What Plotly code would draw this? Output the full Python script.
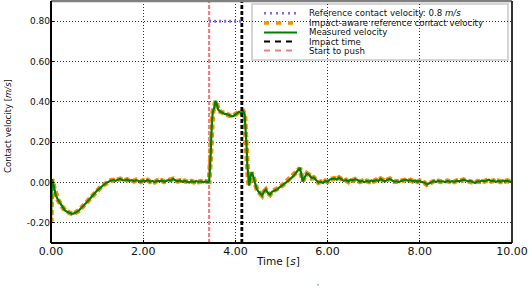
import plotly.graph_objects as go

# ---------------- data ----------------
time_s = [
    0.00, 0.02, 0.04, 0.07, 0.10, 0.15, 0.20, 0.25, 0.30, 0.35, 0.40, 0.45, 0.50, 0.55, 0.60,
    0.65, 0.70, 0.75, 0.80, 0.85, 0.90, 0.95, 1.00, 1.05, 1.10, 1.15, 1.20, 1.25, 1.30, 1.35,
    1.40, 1.45, 1.50, 1.55, 1.60, 1.65, 1.70, 1.75, 1.80, 1.85, 1.90, 1.95, 2.00, 2.05, 2.10,
    2.15, 2.20, 2.25, 2.30, 2.35, 2.40, 2.45, 2.50, 2.55, 2.60, 2.65, 2.70, 2.75, 2.80, 2.85,
    2.90, 2.95, 3.00, 3.05, 3.10, 3.15, 3.20, 3.25, 3.30, 3.35, 3.40, 3.43, 3.46, 3.49, 3.51,
    3.54, 3.57, 3.60, 3.63, 3.67, 3.72, 3.77, 3.82, 3.87, 3.92, 3.96, 4.00, 4.04, 4.08, 4.12,
    4.17, 4.20, 4.22, 4.24, 4.26, 4.28, 4.30, 4.32, 4.35, 4.38, 4.42, 4.46, 4.50, 4.54, 4.58,
    4.62, 4.66, 4.70, 4.75, 4.80, 4.85, 4.90, 4.95, 5.00, 5.05, 5.10, 5.15, 5.20, 5.25, 5.30,
    5.35, 5.40, 5.43, 5.46, 5.50, 5.55, 5.60, 5.65, 5.70, 5.75, 5.80, 5.85, 5.90, 5.95, 6.00,
    6.05, 6.10, 6.15, 6.20, 6.25, 6.30, 6.35, 6.40, 6.45, 6.50, 6.55, 6.60, 6.65, 6.70, 6.75,
    6.80, 6.85, 6.90, 6.95, 7.00, 7.05, 7.10, 7.15, 7.20, 7.25, 7.30, 7.35, 7.40, 7.45, 7.50,
    7.55, 7.60, 7.65, 7.70, 7.75, 7.80, 7.85, 7.90, 7.95, 8.00, 8.05, 8.10, 8.15, 8.20, 8.25,
    8.30, 8.35, 8.40, 8.45, 8.50, 8.55, 8.60, 8.65, 8.70, 8.75, 8.80, 8.85, 8.90, 8.95, 9.00,
    9.05, 9.10, 9.15, 9.20, 9.25, 9.30, 9.35, 9.40, 9.45, 9.50, 9.55, 9.60, 9.65, 9.70, 9.75,
    9.80, 9.85, 9.90, 9.95, 10.00,
]

measured_velocity = [
    -0.200, 0.015, 0.005, -0.030, -0.060, -0.085, -0.105, -0.125, -0.138, -0.145, -0.152, -0.155, -0.153, -0.148, -0.140,
    -0.128, -0.118, -0.104, -0.092, -0.078, -0.064, -0.052, -0.040, -0.030, -0.018, -0.010, -0.002, 0.005, 0.010, 0.012,
    0.008, 0.014, 0.018, 0.012, 0.010, 0.015, 0.008, 0.012, 0.006, 0.012, 0.008, 0.004, 0.010, 0.006, 0.012,
    0.004, 0.008, 0.002, 0.009, 0.006, 0.010, 0.004, 0.008, 0.012, 0.010, 0.018, 0.010, 0.006, 0.010, 0.004,
    0.008, 0.002, 0.000, 0.006, 0.002, 0.008, 0.003, 0.006, 0.001, 0.005, 0.002, 0.004, 0.120, 0.300, 0.350,
    0.370, 0.405, 0.385, 0.360, 0.352, 0.345, 0.340, 0.338, 0.332, 0.328, 0.330, 0.338, 0.345, 0.350, 0.345,
    0.352, 0.340, 0.280, 0.190, 0.080, 0.010, -0.015, 0.020, 0.050, 0.035, -0.005, -0.030, -0.045, -0.055, -0.065,
    -0.045, -0.035, -0.050, -0.060, -0.045, -0.040, -0.035, -0.025, -0.018, -0.008, 0.000, 0.010, 0.020, 0.030, 0.045,
    0.058, 0.072, 0.040, 0.006, 0.025, 0.045, 0.038, 0.022, 0.025, 0.010, 0.000, 0.004, -0.002, 0.008, 0.004,
    0.015, 0.018, 0.020, 0.014, 0.024, 0.016, 0.008, 0.012, 0.004, 0.015, 0.010, 0.016, 0.012, 0.004, 0.008,
    0.002, 0.008, 0.004, 0.010, 0.006, 0.012, 0.008, 0.018, 0.010, 0.006, 0.014, 0.018, 0.010, 0.004, 0.006,
    0.002, 0.008, 0.012, 0.014, 0.008, 0.012, 0.006, 0.010, 0.004, 0.008, 0.002, 0.000, -0.010, -0.004, 0.002,
    0.006, 0.003, 0.008, 0.004, 0.006, 0.002, 0.008, 0.004, 0.007, 0.003, 0.009, 0.006, 0.010, 0.014, 0.010,
    0.006, 0.008, 0.002, -0.002, 0.006, 0.004, 0.010, 0.006, 0.010, 0.014, 0.006, 0.009, 0.003, 0.008, 0.004,
    0.010, 0.006, 0.009, 0.004, 0.006,
]

# impact-aware reference follows the measured signal in the picture
impact_aware_reference = list(measured_velocity)

reference_time = [3.43, 4.14]
reference_velocity = [0.8, 0.8]

impact_time = 4.14
start_push_time = 3.43

x_range = [0, 10]
y_range = [-0.3, 0.9]
x_ticks = [0, 2, 4, 6, 8, 10]
x_tick_labels = ["0.00", "2.00", "4.00", "6.00", "8.00", "10.00"]
y_ticks = [-0.2, 0.0, 0.2, 0.4, 0.6, 0.8]
y_tick_labels = ["-0.20", "0.00", "0.20", "0.40", "0.60", "0.80"]

legend_labels = [
    "Reference contact velocity: 0.8 <i>m/s</i>",
    "Impact-aware reference contact velocity",
    "Measured velocity",
    "Impact time",
    "Start to push",
]

# ---------------- styles ----------------
C_BLUE = "#7b68ee"
C_ORANGE = "#ff8c00"
C_GREEN = "#008000"
C_BLACK = "#000000"
C_PINK = "#f08080"
FONT = "DejaVu Sans"

W, H = 532, 292
L, R, T, B = 51, 20, 1, 49
PW, PH = W - L - R, H - T - B


def px(xp):
    return (xp - L) / PW


def py(yp):
    return (H - B - yp) / PH


fig = go.Figure()

fig.add_trace(go.Scatter(
    x=[start_push_time, start_push_time], y=y_range, mode="lines",
    line=dict(color=C_PINK, width=2.2, dash="4px,2px"), showlegend=False, hoverinfo="skip"))
fig.add_trace(go.Scatter(
    x=time_s, y=impact_aware_reference, mode="lines",
    line=dict(color=C_ORANGE, width=5, dash="5px,3px"), showlegend=False))
fig.add_trace(go.Scatter(
    x=time_s, y=measured_velocity, mode="lines",
    line=dict(color=C_GREEN, width=2.2), showlegend=False))
fig.add_trace(go.Scatter(
    x=[impact_time, impact_time], y=y_range, mode="lines",
    line=dict(color=C_BLACK, width=2.8, dash="4px,2px"), showlegend=False, hoverinfo="skip"))
fig.add_trace(go.Scatter(
    x=reference_time, y=reference_velocity, mode="lines",
    line=dict(color=C_BLUE, width=3, dash="2px,3px"), showlegend=False))

shapes = []
# frame
shapes.append(dict(type="line", xref="paper", yref="paper", x0=0, x1=1, y0=1, y1=1,
                   line=dict(color="#808080", width=2.5)))
shapes.append(dict(type="line", xref="paper", yref="paper", x0=1, x1=1, y0=0, y1=1,
                   line=dict(color="#333333", width=2)))
shapes.append(dict(type="line", xref="paper", yref="paper", x0=0, x1=1, y0=0, y1=0,
                   line=dict(color="#000000", width=2)))
shapes.append(dict(type="line", xref="paper", yref="paper", x0=0, x1=0, y0=0, y1=1,
                   line=dict(color="#000000", width=2)))

# manual legend
shapes.append(dict(type="rect", xref="paper", yref="paper", layer="below",
                   x0=px(252), x1=px(508), y0=py(60), y1=py(4),
                   fillcolor="rgba(255,255,255,0.6)", line=dict(color="#c8c8c8", width=1.5)))
rows = [13.3, 23.0, 32.4, 41.5, 50.6]
samples = [
    dict(color=C_BLUE, width=2.5, dash="2px,4px"),
    dict(color=C_ORANGE, width=3.5, dash="5px,7px"),
    dict(color=C_GREEN, width=2, dash="solid"),
    dict(color=C_BLACK, width=2, dash="6px,5px"),
    dict(color=C_PINK, width=2, dash="6px,5px"),
]
annotations = []
for r, s, lab in zip(rows, samples, legend_labels):
    shapes.append(dict(type="line", xref="paper", yref="paper",
                       x0=px(264), x1=px(297), y0=py(r), y1=py(r), line=s))
    annotations.append(dict(xref="paper", yref="paper", x=px(307), y=py(r), text=lab,
                            showarrow=False, xanchor="left", yanchor="middle",
                            font=dict(family=FONT, size=8.6, color="#111")))

annotations.append(dict(xref="paper", yref="paper", x=px(8), y=py(126),
                        text="Contact velocity [<i>m/s</i>]", textangle=-90, showarrow=False,
                        xanchor="center", yanchor="middle",
                        font=dict(family=FONT, size=8.5, color="#111")))
annotations.append(dict(xref="paper", yref="paper", x=px(278), y=py(261),
                        text="Time [<i>s</i>]", showarrow=False,
                        xanchor="center", yanchor="middle",
                        font=dict(family=FONT, size=10.5, color="#111")))
annotations.append(dict(xref="paper", yref="paper", x=px(318), y=py(287),
                        text="'", showarrow=False, xanchor="center", yanchor="middle",
                        font=dict(family=FONT, size=7, color="#333")))

fig.update_layout(
    width=W, height=H,
    margin=dict(l=L, r=R, t=T, b=B, pad=0),
    paper_bgcolor="white", plot_bgcolor="white",
    showlegend=False,
    shapes=shapes,
    annotations=annotations,
    xaxis=dict(range=x_range, tickvals=x_ticks, ticktext=x_tick_labels,
               showgrid=True, gridcolor="#333", griddash="1px,2px", gridwidth=1,
               zeroline=False, showline=False, ticks="inside", ticklen=3,
               tickcolor="#000", tickfont=dict(family=FONT, size=11, color="#111")),
    yaxis=dict(range=y_range, tickvals=y_ticks, ticktext=y_tick_labels,
               showgrid=True, gridcolor="#333", griddash="1px,2px", gridwidth=1,
               zeroline=False, showline=False, ticks="inside", ticklen=3,
               tickcolor="#000", tickfont=dict(family=FONT, size=9, color="#111")),
)

fig.write_html("out.html", config={"displayModeBar": False},
               post_script="document.body.style.margin='0';document.body.style.overflow='hidden';")
